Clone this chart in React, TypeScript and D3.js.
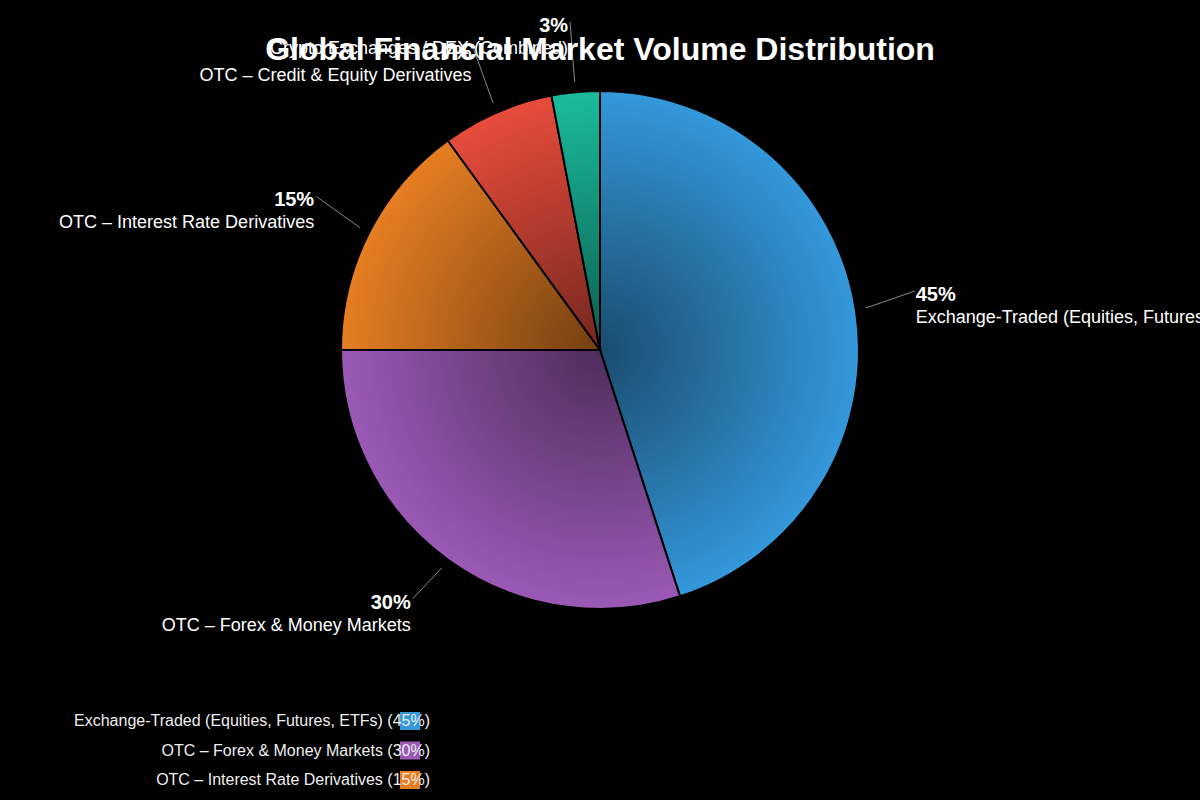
import React, { useEffect, useRef } from "react";
import * as d3 from "d3";

const categories = [
  "Exchange-Traded (Equities, Futures, ETFs)",
  "OTC – Forex & Money Markets",
  "OTC – Interest Rate Derivatives",
  "OTC – Credit & Equity Derivatives",
  "Crypto Exchanges / DEX (Combined)",
];
const shares = [45, 30, 15, 7, 3];
const colors = ["#3498db", "#9b59b6", "#e67e22", "#e74c3c", "#1abc9c"];
const title = "Global Financial Market Volume Distribution";

const W = 1200;
const H = 800;
const FONT = "Liberation Sans, Arial, Helvetica, sans-serif";

export default function App() {
  const ref = useRef<SVGSVGElement | null>(null);

  useEffect(() => {
    document.body.style.margin = "0";
    document.body.style.background = "#000";
    const svg = d3.select(ref.current);
    svg.selectAll("*").remove();

    const cx = 600;
    const cy = 350;
    const r = 259;

    const data = categories.map((c, i) => ({ name: c, value: shares[i], color: colors[i] }));
    const pie = d3.pie<any>().value((d) => d.value).sort(null);
    const arcs = pie(data);
    const arc = d3.arc<any>().innerRadius(0).outerRadius(r);

    const defs = svg.append("defs");
    data.forEach((d, i) => {
      const g = defs
        .append("radialGradient")
        .attr("id", "grad" + i)
        .attr("gradientUnits", "userSpaceOnUse")
        .attr("cx", 0)
        .attr("cy", 0)
        .attr("r", r);
      const base = d3.rgb(d.color);
      const dark = d3.rgb(base.r * 0.5, base.g * 0.5, base.b * 0.5);
      g.append("stop").attr("offset", "0%").attr("stop-color", dark.formatHex());
      g.append("stop").attr("offset", "100%").attr("stop-color", d.color);
    });

    const g = svg.append("g").attr("transform", `translate(${cx},${cy})`);

    g.selectAll("path.slice")
      .data(arcs)
      .enter()
      .append("path")
      .attr("class", "slice")
      .attr("d", arc as any)
      .attr("fill", (_d, i) => `url(#grad${i})`)
      .attr("stroke", "#000")
      .attr("stroke-width", 2);

    const startR = r * 1.04;
    const endR = r * 1.23;
    const labels = arcs.map((a, i) => {
      const mid = (a.startAngle + a.endAngle) / 2;
      return {
        i,
        sx: Math.sin(mid) * startR,
        sy: -Math.cos(mid) * startR,
        ex: Math.sin(mid) * endR,
        ey: -Math.cos(mid) * endR,
        right: Math.sin(mid) >= 0,
      };
    });
    const minGap = 27;
    [true, false].forEach((side) => {
      const list = labels.filter((l) => l.right === side).sort((a, b) => b.ey - a.ey);
      for (let k = 1; k < list.length; k++) {
        const below = list[k - 1];
        const cur = list[k];
        if (below.ey - cur.ey < minGap) cur.ey = below.ey - minGap;
      }
    });

    const lg = g.append("g");
    labels.forEach((l) => {
      lg.append("line")
        .attr("x1", l.sx)
        .attr("y1", l.sy)
        .attr("x2", l.ex)
        .attr("y2", l.ey - 9)
        .attr("stroke", "#aaa")
        .attr("stroke-opacity", 0.8)
        .attr("stroke-width", 1);
      const tx = l.ex + (l.right ? 1 : -2);
      const anchor = l.right ? "start" : "end";
      lg.append("text")
        .attr("x", tx)
        .attr("y", l.ey + 1)
        .attr("text-anchor", anchor)
        .attr("fill", "#fff")
        .attr("font-family", FONT)
        .attr("font-size", 20)
        .attr("font-weight", "bold")
        .text(shares[l.i] + "%");
      lg.append("text")
        .attr("x", tx)
        .attr("y", l.ey + 23)
        .attr("text-anchor", anchor)
        .attr("fill", "#fff")
        .attr("font-family", FONT)
        .attr("font-size", 18)
        .text(categories[l.i]);
    });

    svg
      .append("text")
      .attr("x", W / 2)
      .attr("y", 60)
      .attr("text-anchor", "middle")
      .attr("fill", "#fff")
      .attr("font-family", FONT)
      .attr("font-size", 32)
      .attr("font-weight", "bold")
      .text(title);

    const legend = svg.append("g").attr("transform", "translate(400,712)");
    data.forEach((d, i) => {
      const row = legend.append("g").attr("transform", `translate(0,${i * 29.5})`);
      row.append("rect").attr("width", 20).attr("height", 18).attr("fill", d.color);
      row
        .append("text")
        .attr("x", 30)
        .attr("y", 14)
        .attr("text-anchor", "end")
        .attr("fill", "#eee")
        .attr("font-family", FONT)
        .attr("font-size", 16)
        .text(`${d.name} (${d.value}%)`);
    });
  }, []);

  return <svg ref={ref} width={W} height={H} style={{ display: "block", background: "#000" }} />;
}
